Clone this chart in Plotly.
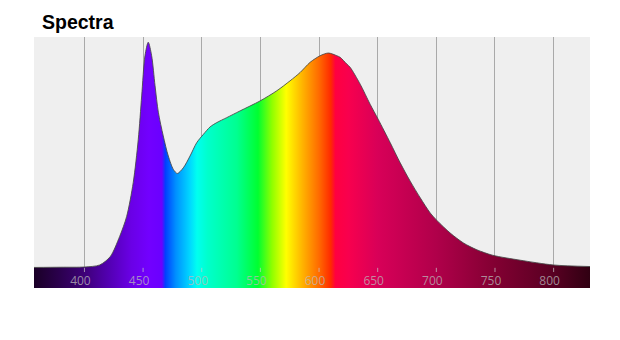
import plotly.graph_objects as go

# ---- data ----
wavelength_nm = [357, 380, 400, 413, 422, 430, 436, 441.6, 445.9, 448.8, 451.6, 454.4,
                 457.3, 460.2, 463, 467.2, 471.5, 475.8, 479.2, 484.3, 490, 495.7,
                 501.4, 507.1, 512.8, 521.3, 532.7, 549.7, 564, 575.3, 583.9, 592.4,
                 600.9, 608, 615.2, 618, 623.7, 626.5, 635.1, 643.6, 650.4, 660.7,
                 669.2, 677.7, 686.3, 694.8, 700.5, 711.9, 723.2, 734.6, 748,
                 771.6, 799.7, 831]
intensity = [0.002, 0.003, 0.004, 0.013, 0.050, 0.139, 0.228, 0.378, 0.569, 0.761, 0.939, 0.999,
             0.939, 0.806, 0.689, 0.584, 0.495, 0.436, 0.418, 0.443, 0.495, 0.554,
             0.591, 0.624, 0.643, 0.665, 0.695, 0.739, 0.784, 0.828, 0.865, 0.910,
             0.939, 0.951, 0.939, 0.932, 0.902, 0.888, 0.813, 0.724, 0.658, 0.554,
             0.465, 0.384, 0.310, 0.243, 0.210, 0.154, 0.110, 0.080, 0.056,
             0.034, 0.013, 0.006]
tick_values = [400, 450, 500, 550, 600, 650, 700, 750, 800]
tick_labels = ["400", "450", "500", "550", "600", "650", "700", "750", "800"]

# colour of light at each wavelength (gradient stops)
spectrum_nm = [357, 380, 400, 420, 440, 455, 466, 469, 478, 490, 496, 505, 530, 548,
               560, 572, 585, 600, 610, 614, 625, 650, 700, 750, 800, 831]
spectrum_colors = ["#1a0026", "#2c0050", "#3e0078", "#5200b0", "#6a00e6", "#7200ff",
                   "#6a00ff", "#0040ff", "#0090ff", "#00d8ff", "#00fff0", "#00ffcc",
                   "#00ff90", "#00ff30", "#90ff00", "#ffff00", "#ffb800", "#ff6a00",
                   "#ff2a00", "#ff0040", "#f8004e", "#d80058", "#b0004a", "#820032",
                   "#580022", "#300012"]

x_range = [357, 831]
y_range = [-0.089, 1.022]

lo, hi = spectrum_nm[0], spectrum_nm[-1]
colorscale = [[(w - lo) / (hi - lo), c] for w, c in zip(spectrum_nm, spectrum_colors)]

fig = go.Figure()
# baseline at bottom of plot (strip below zero)
fig.add_trace(go.Scatter(x=x_range, y=[y_range[0], y_range[0]], mode="lines",
                         line=dict(width=0), hoverinfo="skip", showlegend=False))
fig.add_trace(go.Scatter(
    x=wavelength_nm, y=intensity, mode="lines",
    line=dict(color="rgba(70,70,70,0.85)", width=1, shape="spline", smoothing=0.8),
    fill="tonexty",
    fillgradient=dict(type="horizontal", colorscale=colorscale, start=lo, stop=hi),
    showlegend=False,
))
# tiny tick marks at zero level
fig.add_trace(go.Scatter(
    x=tick_values, y=[-0.009] * len(tick_values), mode="markers",
    marker=dict(symbol="line-ns", size=3, line=dict(width=1, color="rgba(200,200,200,0.7)")),
    hoverinfo="skip", showlegend=False,
))

fig.update_layout(
    width=620, height=340,
    margin=dict(l=34, r=30, t=37, b=52),
    paper_bgcolor="white", plot_bgcolor="#efefef",
    title=dict(text="<b>Spectra</b>", x=42 / 620, xanchor="left", xref="container",
               y=1 - 22.5 / 340, yanchor="middle", yref="container",
               font=dict(family="Liberation Sans, Arial", size=19.5, color="black")),
    xaxis=dict(range=x_range, tickvals=tick_values, ticktext=tick_labels,
               showgrid=True, gridcolor="#a9a9a9", gridwidth=1, zeroline=False,
               ticks="", ticklabelposition="inside", ticklabelstandoff=-2,
               ticklabelshift=-4,
               tickfont=dict(family="Open Sans, Arial", size=12, color="rgba(185,185,185,0.75)"),
               showline=False, fixedrange=True),
    yaxis=dict(range=y_range, showgrid=False, zeroline=False, showticklabels=False,
               ticks="", fixedrange=True),
)

fig.write_html("out.html")
